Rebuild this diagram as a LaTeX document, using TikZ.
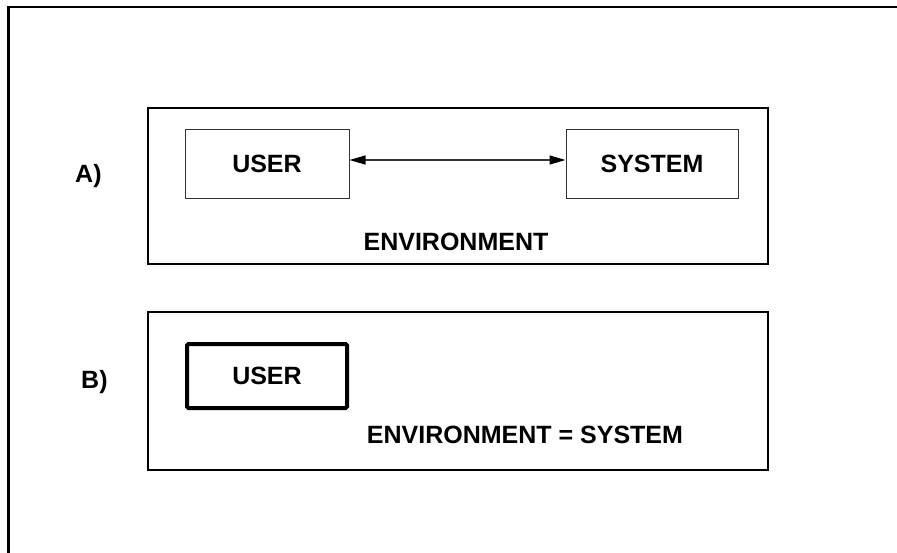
\documentclass[tikz,border=0pt]{standalone}
\usepackage{fontspec}
\setmainfont{Liberation Sans}
\usetikzlibrary{arrows.meta}
\begin{document}
\begin{tikzpicture}[x=1pt,y=-1pt,
  lbl/.style={font=\fontsize{25}{30}\selectfont\bfseries, inner sep=0pt},
  panel/.style={draw=black, line width=2pt},
  bigtip/.tip={Triangle[length=16pt,width=9pt,black]},
  thinbox/.style={draw=black!80, line width=1pt, minimum width=164pt, minimum height=69pt, inner sep=0pt, font=\fontsize{25}{30}\selectfont\bfseries},
  thickbox/.style={draw=black, line width=4pt, rounded corners=1.5pt, minimum width=160pt, minimum height=64pt, inner sep=0pt, font=\fontsize{25}{30}\selectfont\bfseries}]
\useasboundingbox (0,0) rectangle (897,552);
\begin{scope}
\clip (0,0) rectangle (897,552);
\draw[line width=2.2pt] (8.5,570) -- (8.5,6.7) -- (910,6.7);
\end{scope}
% Panel A
\node[panel, minimum width=620pt, minimum height=156pt, inner sep=0pt] (pA) at (457.6,186.4) {};
\node[thinbox] (userA) at (267,163.5) {USER};
\node[thinbox, minimum width=172pt, minimum height=68.5pt] (sysA) at (652,163.8) {SYSTEM};
\draw[black!80, line width=1.2pt, bigtip-bigtip] (userA.east |- 0,160) coordinate (aL) -- (sysA.west |- 0,160) coordinate (aR);
\node[lbl, anchor=base] (envA) at (456,250) {ENVIRONMENT};
\node[lbl, anchor=base west] (labA) at (75,182) {A)};
% Panel B
\node[panel, minimum width=620.5pt, minimum height=157.5pt, inner sep=0pt] (pB) at (457.8,390.8) {};
\node[thickbox] (userB) at (267,376) {USER};
\node[lbl, anchor=base] (envB) at (525,443.3) {ENVIRONMENT = SYSTEM};
\node[lbl, anchor=base west] (labB) at (81,388) {B)};
\end{tikzpicture}
\end{document}
